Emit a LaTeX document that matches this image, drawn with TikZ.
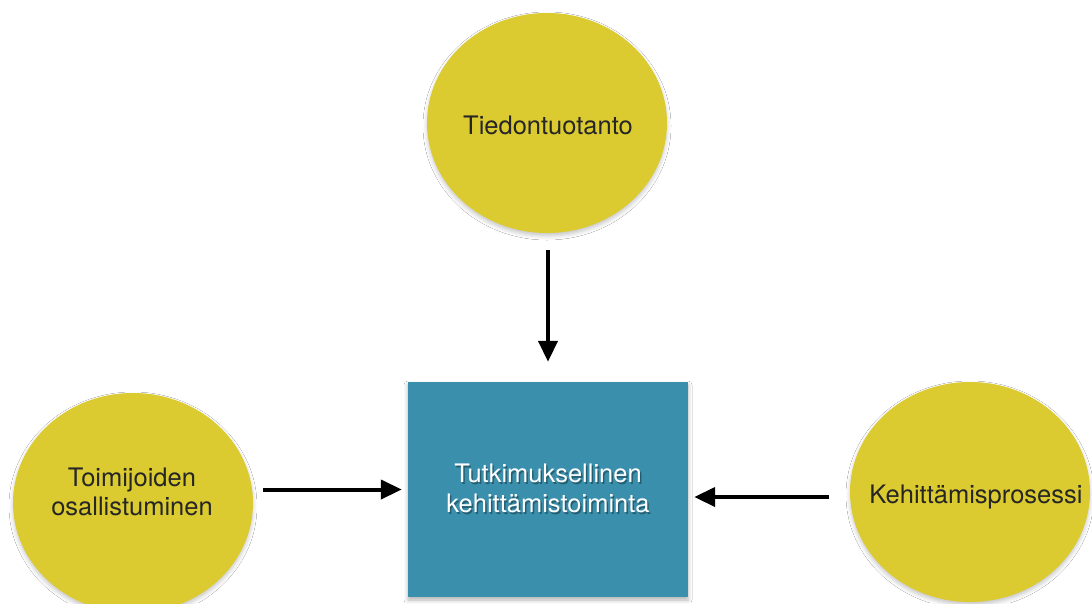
\documentclass[tikz,border=0pt]{standalone}
\usepackage{fontspec}
\setmainfont{TeX Gyre Heros}
\usetikzlibrary{arrows.meta,shapes.geometric,shadows.blur}
\definecolor{discfill}{HTML}{DCCB30}
\definecolor{corefill}{HTML}{3A8FAD}
\tikzset{
  every node/.style={font=\fontsize{25.5}{29.5}\selectfont},
  disc/.style={ellipse, fill=discfill, minimum width=240pt, minimum height=220pt,
    inner sep=0pt,
    blur shadow={shadow xshift=0pt, shadow yshift=-3pt, shadow blur radius=4pt, shadow opacity=22}},
  disclabel/.style={align=center, text=black!85, inner sep=0pt},
  corebox/.style={rectangle, fill=corefill, minimum width=280pt, minimum height=215pt,
    inner sep=0pt,
    blur shadow={shadow xshift=0pt, shadow yshift=-3pt, shadow blur radius=4pt, shadow opacity=30}},
  corelabel/.style={align=center, text=white, inner sep=0pt},
  flow/.style={line width=4pt, -{Triangle[length=21pt, width=19pt]}}
}
\begin{document}
\begin{tikzpicture}[x=1pt, y=-1pt]
  \useasboundingbox (0,0) rectangle (1092,603);
  \fill[white] (0,0) rectangle (1092,603);

  % three sources around the central activity
  \node[disc] (tieto) at (547,123) {};
  \node[disc] (toimijat) at (133,503) {};
  \node[disc] (prosessi) at (970,492) {};
  \node[disclabel] (tietotext) at (548,125) {Tiedontuotanto};
  \node[disclabel] (toimijattext) at (132,492) {Toimijoiden\\osallistuminen};
  \node[disclabel] (prosessitext) at (976,497) {Kehittämisprosessi};

  % central box with its shaded label
  \node[corebox] (core) at (548,489.5) {};
  \node[corelabel, text=black, opacity=0.35] (coreshade) at (549.5,490.5)
    {Tutkimuksellinen\\kehittämistoiminta};
  \node[corelabel] (coretext) at (548,488.5)
    {Tutkimuksellinen\\kehittämistoiminta};

  % arrows into the box
  \draw[flow, shorten <=17pt, shorten >=20pt] (core.north |- tieto.south) -- (core.north);
  \draw[flow, shorten <=10pt, shorten >=6pt] (toimijat.east |- core.west) -- (core.west);
  \draw[flow, shorten <=21pt, shorten >=6pt] (prosessi.west |- prosessitext.center) -- (core.east |- prosessitext.center);
\end{tikzpicture}
\end{document}
